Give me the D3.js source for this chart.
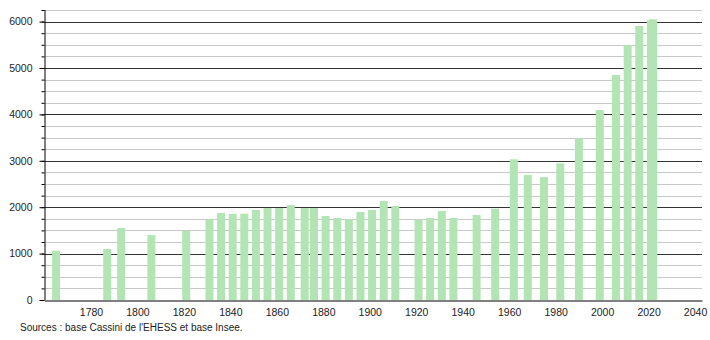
<!DOCTYPE html>
<html>
<head>
<meta charset="utf-8">
<script src="https://cdn.jsdelivr.net/npm/d3@7"></script>
<style>
  body { margin: 0; background: #fff; }
  svg { display: block; font-family: "Liberation Sans", Arial, sans-serif; }
</style>
</head>
<body>
<svg id="chart" width="710" height="340"></svg>
<script>
// Census years and population
const years = [1765, 1787, 1793, 1806, 1821, 1831, 1836, 1841, 1846, 1851, 1856, 1861, 1866,
    1872, 1876, 1881, 1886, 1891, 1896, 1901, 1906, 1911, 1921, 1926, 1931, 1936, 1946,
    1954, 1962, 1968, 1975, 1982, 1990, 1999, 2006, 2011, 2016, 2021, 2022];
const population = [1062, 1100, 1552, 1400, 1487, 1738, 1875, 1855, 1860, 1940, 1983, 1983, 2047,
    1983, 1983, 1810, 1767, 1745, 1897, 1940, 2133, 2026, 1738, 1767, 1918, 1767, 1832,
    1968, 3032, 2694, 2651, 2946, 3484, 4094, 4849, 5489, 5905, 6030, 6050];
const xTicks = [1780, 1800, 1820, 1840, 1860, 1880, 1900, 1920, 1940, 1960, 1980, 2000, 2020, 2040];
const yTicks = [0, 1000, 2000, 3000, 4000, 5000, 6000];
const sourceText = "Sources : base Cassini de l'EHESS et base Insee.";

const margin = { top: 10, left: 44.5, right: 8, bottom: 40 };
const width = 710, height = 340;
const barWidth = 8;

const svg = d3.select("#chart");

const xScale = d3.scaleLinear()
    .domain([1760, 2043])
    .range([margin.left, width - margin.right]);

const yScale = d3.scaleLinear()
    .domain([0, 6250])
    .range([height - margin.bottom, margin.top]);

// Gridlines: light every 250, dark every 1000
const minor = d3.range(250, 6251, 250).filter(v => v % 1000 !== 0);
svg.append("g")
    .selectAll("line")
    .data(minor)
    .join("line")
    .attr("x1", margin.left)
    .attr("x2", width - margin.right)
    .attr("y1", d => Math.round(yScale(d)) + 0.5)
    .attr("y2", d => Math.round(yScale(d)) + 0.5)
    .attr("stroke", "#c8c8c8")
    .attr("stroke-width", 1);

svg.append("g")
    .selectAll("line")
    .data(yTicks.filter(v => v > 0))
    .join("line")
    .attr("x1", margin.left)
    .attr("x2", width - margin.right)
    .attr("y1", d => Math.round(yScale(d)) + 0.5)
    .attr("y2", d => Math.round(yScale(d)) + 0.5)
    .attr("stroke", "#333")
    .attr("stroke-width", 1);

// Bars
svg.append("g")
    .selectAll("rect")
    .data(years)
    .join("rect")
    .attr("x", d => xScale(d) - barWidth / 2)
    .attr("width", barWidth)
    .attr("y", (d, i) => yScale(population[i]))
    .attr("height", (d, i) => yScale(0) - yScale(population[i]))
    .attr("fill", "#b3e4b3");

// Y axis with minor ticks
const yAxis = svg.append("g")
    .attr("transform", `translate(${margin.left},0)`);

yAxis.call(d3.axisLeft(yScale).tickValues(d3.range(0, 6251, 250)).tickSize(3).tickFormat(""))
    .call(g => g.select(".domain").remove());

yAxis.append("g")
    .call(d3.axisLeft(yScale).tickValues(yTicks).tickSize(5).tickPadding(7).tickFormat(d3.format("d")))
    .call(g => g.select(".domain").remove())
    .selectAll("text")
    .style("font-size", "10.5px")
    .attr("fill", "#222");

yAxis.selectAll("line").attr("stroke", "#000");

yAxis.append("line")
    .attr("x1", 0.5).attr("x2", 0.5)
    .attr("y1", margin.top).attr("y2", yScale(0))
    .attr("stroke", "#000");

// X axis
const xAxis = svg.append("g")
    .attr("transform", `translate(0,${Math.round(yScale(0)) + 0.5})`)
    .call(d3.axisBottom(xScale).tickValues(xTicks).tickSize(0).tickPadding(8).tickFormat(d3.format("d")));

xAxis.select(".domain").attr("stroke", "#000");
xAxis.selectAll("text")
    .style("font-size", "10.5px")
    .attr("fill", "#222");

// Source line
svg.append("text")
    .attr("x", 20)
    .attr("y", 331)
    .style("font-size", "10px")
    .attr("fill", "#222")
    .text(sourceText);
</script>
</body>
</html>
